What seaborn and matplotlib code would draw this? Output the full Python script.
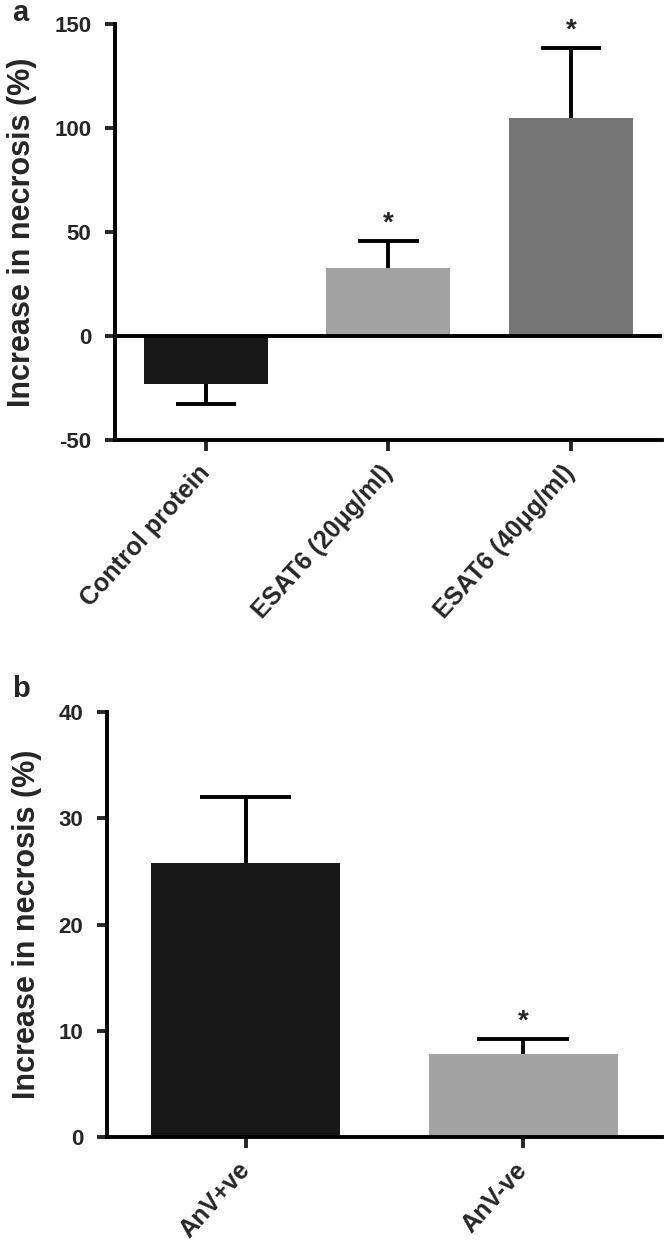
import numpy as np
import pandas as pd
import matplotlib
matplotlib.use('Agg')
import matplotlib.pyplot as plt
import seaborn as sns

# ── Data ──────────────────────────────────────────────────────────
a_labels = ['Control protein', 'ESAT6 (20\u03bcg/ml)', 'ESAT6 (40\u03bcg/ml)']
a_mean   = [-23.0, 32.7, 104.8]
a_err    = [9.6, 13.0, 33.7]          # one-sided SEM (away from zero)
a_stars  = ['', '*', '*']
a_colors = ['#171717', '#a3a3a3', '#767676']
a_ticks  = [-50, 0, 50, 100, 150]

b_labels = ['AnV+ve', 'AnV-ve']
b_mean   = [25.8, 7.8]
b_err    = [6.2, 1.4]
b_stars  = ['', '*']
b_colors = ['#171717', '#a3a3a3']
b_ticks  = [0, 10, 20, 30, 40]

sns.set_style('white')
plt.rcParams['font.family'] = ['Liberation Sans', 'DejaVu Sans']
plt.rcParams['font.weight'] = 'bold'
plt.rcParams['axes.unicode_minus'] = False

LW = 2.8
fig = plt.figure(figsize=(6.64, 12.47), dpi=100)


def panel(ax, labels, mean, err, stars, colors, ticks):
    df = pd.DataFrame({'group': labels, 'value': mean})
    sns.barplot(data=df, x='group', y='value', hue='group', palette=colors,
                legend=False, errorbar=None, width=0.68, linewidth=0,
                saturation=1, ax=ax, zorder=2)

    # one-sided error bars, pointing away from zero
    x = np.arange(len(mean))
    mean = np.array(mean)
    tip = mean + np.sign(mean) * np.array(err)
    ax.vlines(x, mean, tip, color='black', lw=LW, zorder=3)
    ax.hlines(tip, x - 0.165, x + 0.165, color='black', lw=LW, zorder=3)

    for xi, t, s in zip(x, tip, stars):
        if s:
            ax.annotate(s, (xi, t), xytext=(0, 3), textcoords='offset points',
                        ha='center', va='bottom', fontsize=20)

    ax.set_xlim(-0.5, len(mean) - 0.5)
    ax.set_ylim(ticks[0], ticks[-1])
    ax.set_yticks(ticks)
    ax.set_xlabel('')
    ax.set_ylabel('Increase in necrosis (%)', fontsize=22, fontweight='bold',
                  labelpad=12)
    sns.despine(ax=ax)
    for side in ['left', 'bottom']:
        ax.spines[side].set_linewidth(LW)
        ax.spines[side].set_color('black')
    ax.tick_params(axis='y', direction='out', length=7, width=LW,
                   labelsize=16, pad=10, left=True)
    ax.tick_params(axis='x', direction='out', length=8, width=LW,
                   labelsize=18, pad=13, bottom=True)
    for lab in ax.get_xticklabels():
        lab.set_rotation(48)
        lab.set_ha('right')
        lab.set_va('center')
        lab.set_rotation_mode('anchor')
        lab.set_fontweight('bold')
    for lab in ax.get_yticklabels():
        lab.set_fontweight('bold')


# ── Panel a ───────────────────────────────────────────────────────
ax_a = fig.add_axes([0.173, 0.6472, 0.824, 0.3336])
panel(ax_a, a_labels, a_mean, a_err, a_stars, a_colors, a_ticks)
ax_a.axhline(0, color='black', lw=LW, zorder=4)
fig.text(0.018, 0.9895, 'a', fontsize=21, fontweight='bold', ha='left', va='center')

# ── Panel b ───────────────────────────────────────────────────────
ax_b = fig.add_axes([0.161, 0.0882, 0.836, 0.3408])
panel(ax_b, b_labels, b_mean, b_err, b_stars, b_colors, b_ticks)
fig.text(0.018, 0.4475, 'b', fontsize=21, fontweight='bold', ha='left', va='center')

fig.savefig('out.png', dpi=100, facecolor='white')
